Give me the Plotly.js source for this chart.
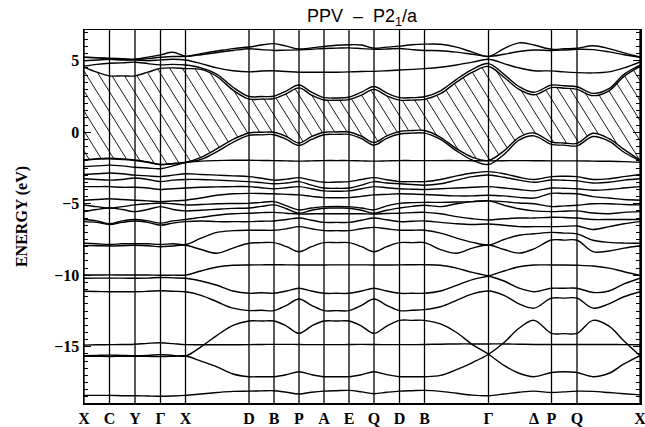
<!DOCTYPE html>
<html><head><meta charset="utf-8">
<script src="https://cdn.plot.ly/plotly-3.0.1.min.js"></script>
<style>html,body{margin:0;padding:0;background:#fff}#plot{width:645px;height:427px}</style>
</head><body><div id="plot"></div>
<script>
// path coordinate (k-distance) of each sample and of the labelled k-points
const kGrid=[0,12.75,25.5,38.25,51,63.75,76.5,89,101.5,117,133,149,165,177.5,190,202.5,215,227.5,240,252.5,265,277.5,290,302.75,315.5,328,340.5,356.5,372.5,388.5,404.5,420,435,450,467.5,480,493,509,525,540,556];
const kTicks=[0,25.5,51,76.5,101.5,165,190,215,240,265,290,315.5,340.5,404.5,450,467.5,493,556];
const kLabels=['X','C','Y','Γ','X','D','B','P','A','E','Q','D','B','Γ','Δ','P','Q','X'];
const yTicks=[5,0,-5,-10,-15];

// conduction bands (eV)
const c5=[5.24,5.22,5.17,5.15,5.12,5.25,5.41,5.59,5.32, 5.5,5.68,5.85, 5.96,6.1,6.2,6.02,5.82,5.9,6.0,6.08,6.12,6.1,5.88,5.95,6.02,6.12,6.16, 6.15,5.95,5.6, 5.3,5.85,6.25,6.1,5.8,5.84,5.87,6.05,5.85,5.55,5.26];
const c4=[5.24,5.2,5.15,5.1,5.06,5.15,5.24,5.3,5.3, 5.42,5.58,5.72, 5.84,5.78,5.72,5.74,5.76,5.8,5.86,5.88,5.9,5.85,5.8,5.82,5.86,5.78,5.72, 5.7,5.6,5.45, 5.3,5.45,5.65,5.75,5.72,5.75,5.8,5.78,5.62,5.42,5.24];
const c3=[5.0,5.05,5.1,5.05,5.06,5.0,5.06,5.1,5.05, 4.8,4.5,4.3, 4.22,4.28,4.3,4.25,4.2,4.2,4.2,4.2,4.22,4.25,4.26,4.3,4.35,4.4,4.45, 4.55,4.7,4.9, 5.1,4.8,4.5,4.3,4.29,4.22,4.17,4.15,4.22,4.5,4.92];
const c2=[4.62,4.75,4.83,4.85,4.9,4.8,4.71,4.75,4.7, 4.5,4.05,3.15, 2.5,2.5,2.52,2.9,3.3,2.8,2.42,2.4,2.45,2.8,3.2,2.75,2.42,2.42,2.48, 2.9,3.7,4.4, 4.8,4.05,3.2,2.8,3.3,3.25,3.18,2.72,3.05,4.05,4.7];
const c1=[4.55,4.2,3.94,3.94,3.94,4.2,4.47,4.5,4.45, 4.4,3.9,2.95, 2.32,2.32,2.35,2.7,3.1,2.6,2.26,2.24,2.28,2.6,3.0,2.55,2.25,2.25,2.3, 2.7,3.5,4.2, 4.6,3.85,3.0,2.62,3.12,3.08,3.0,2.56,2.9,3.9,4.6];
// valence bands (eV)
const v1=[-1.94,-1.85,-1.82,-1.86,-1.94,-2.08,-2.24,-2.18,-2.1, -1.75,-1.15,-0.5, -0.05,0.0,0.0,-0.3,-0.75,-0.3,0.0,0.02,0.02,-0.28,-0.72,-0.25,0.05,0.12,0.12, -0.35,-1.15,-1.75, -1.97,-1.3,-0.35,-0.05,-0.68,-0.75,-0.78,-0.07,-0.45,-1.2,-1.95];
const v2=[-1.96,-1.88,-1.85,-1.9,-1.97,-2.1,-2.27,-2.2,-2.12, -1.9,-1.35,-0.7, -0.22,-0.18,-0.17,-0.5,-0.92,-0.5,-0.17,-0.15,-0.15,-0.45,-0.9,-0.42,-0.12,-0.06,-0.06, -0.5,-1.3,-1.95, -2.25,-1.55,-0.55,-0.25,-0.85,-0.9,-0.95,-0.3,-0.62,-1.4,-2.0];
const f1=[-2.4,-2.35,-2.3,-2.35,-2.45,-2.5,-2.55,-2.35,-2.12, -2.02,-1.98,-1.96, -1.96,-1.97,-1.98,-2.0,-2.02,-2.0,-1.98,-1.98,-1.98,-2.0,-2.02,-2.0,-1.98,-1.98,-1.98, -1.98,-1.98,-1.99, -2.0,-1.99,-1.98,-1.99,-2.0,-2.0,-2.0,-2.02,-2.03,-2.05,-2.1];
const g1=[-2.95,-2.9,-2.85,-2.9,-3.0,-3.05,-3.1,-3.0,-2.9, -2.95,-3.0,-3.05, -3.1,-3.22,-3.35,-3.28,-3.17,-3.35,-3.5,-3.48,-3.45,-3.3,-3.17,-3.32,-3.45,-3.45,-3.45, -3.3,-3.05,-2.85, -2.75,-2.9,-3.15,-3.3,-3.1,-3.08,-3.1,-3.3,-3.25,-3.1,-2.95];
const g2=[-3.25,-3.3,-3.35,-3.3,-3.2,-3.3,-3.45,-3.35,-3.3, -3.3,-3.35,-3.4, -3.45,-3.52,-3.6,-3.55,-3.45,-3.7,-3.9,-3.92,-3.9,-3.7,-3.45,-3.55,-3.6,-3.65,-3.7, -3.6,-3.35,-3.1, -2.99,-3.15,-3.35,-3.5,-3.34,-3.36,-3.4,-3.55,-3.5,-3.35,-3.25];
const g3=[-3.8,-3.8,-3.8,-3.85,-3.85,-3.9,-4.0,-3.95,-3.9, -3.85,-3.82,-3.8, -3.8,-3.88,-3.95,-3.88,-3.8,-3.95,-4.1,-4.12,-4.1,-3.95,-3.8,-3.88,-3.95,-3.98,-4.0, -3.95,-3.9,-3.85, -3.8,-3.9,-4.0,-4.1,-3.9,-3.92,-3.95,-4.05,-4.0,-3.9,-3.8];
const g4=[-4.75,-4.7,-4.65,-4.7,-4.75,-4.8,-4.85,-4.8,-4.75, -4.6,-4.4,-4.3, -4.27,-4.28,-4.3,-4.34,-4.38,-4.48,-4.57,-4.58,-4.57,-4.48,-4.38,-4.34,-4.3,-4.32,-4.35, -4.4,-4.45,-4.45, -4.4,-4.45,-4.55,-4.6,-4.27,-4.28,-4.3,-4.5,-4.6,-4.7,-4.75];
const g5=[-5.08,-5.2,-5.3,-5.2,-5.08,-5.0,-4.95,-5.0,-5.08, -5.05,-5.0,-4.98, -4.97,-4.9,-4.85,-5.15,-5.43,-5.3,-5.2,-5.18,-5.2,-5.3,-5.43,-5.15,-4.97,-4.92,-4.9, -4.9,-4.88,-4.85, -4.8,-4.85,-4.95,-5.0,-5.2,-5.15,-5.1,-5.0,-5.0,-5.05,-5.08];
const g6=[-5.55,-5.4,-5.3,-5.4,-5.55,-5.4,-5.2,-5.4,-5.5, -5.45,-5.38,-5.32, -5.3,-5.18,-5.08,-5.35,-5.66,-5.45,-5.31,-5.3,-5.31,-5.45,-5.66,-5.45,-5.3,-5.18,-5.1, -5.2,-5.0,-4.85, -4.8,-5.1,-5.35,-5.5,-5.55,-5.52,-5.5,-5.65,-5.7,-5.6,-5.55];
const g7=[-6.1,-6.2,-6.4,-6.2,-6.1,-6.2,-6.35,-6.2,-6.1, -5.95,-5.8,-5.7, -5.66,-5.62,-5.6,-5.66,-5.72,-5.7,-5.7,-5.7,-5.7,-5.7,-5.72,-5.68,-5.66,-5.62,-5.6, -5.7,-5.9,-6.05, -6.13,-6.05,-6.0,-6.0,-5.94,-5.96,-6.0,-6.1,-6.1,-6.1,-6.1];
const g8=[-6.25,-6.3,-6.45,-6.3,-6.2,-6.3,-6.5,-6.35,-6.25, -6.2,-6.25,-6.25, -6.25,-6.22,-6.2,-6.1,-6.0,-6.15,-6.3,-6.3,-6.3,-6.15,-6.0,-6.12,-6.25,-6.22,-6.2, -6.3,-6.4,-6.45, -6.41,-6.5,-6.6,-6.6,-6.6,-6.58,-6.55,-6.8,-6.6,-6.4,-6.25];
const g9=[-7.76,-7.8,-7.85,-7.8,-7.8,-7.8,-7.85,-7.8,-7.85, -7.4,-7.0,-6.88, -6.85,-6.85,-6.85,-6.75,-6.6,-6.75,-6.88,-6.88,-6.88,-6.75,-6.65,-6.75,-6.85,-6.85,-6.85, -7.05,-7.4,-7.7, -7.88,-7.5,-7.2,-7.1,-7.0,-7.05,-7.1,-7.55,-7.7,-7.75,-7.76];
const g10=[-7.93,-7.93,-7.95,-7.93,-7.9,-7.93,-8.0,-7.95,-7.9, -8.2,-8.46,-8.1, -7.76,-7.72,-7.72,-8.0,-8.35,-8.0,-7.72,-7.72,-7.72,-8.0,-8.35,-8.0,-7.72,-7.72,-7.72, -8.2,-8.46,-8.1, -7.88,-8.2,-8.45,-8.15,-7.53,-7.54,-7.55,-8.35,-8.3,-8.1,-7.93];
const h1=[-9.98,-9.98,-9.97,-9.98,-9.98,-9.98,-10.0,-9.99,-9.98, -9.7,-9.42,-9.3, -9.28,-9.27,-9.26,-9.27,-9.28,-9.28,-9.28,-9.27,-9.27,-9.27,-9.28,-9.28,-9.27,-9.26,-9.26, -9.3,-9.5,-9.8, -10.05,-10.4,-10.9,-11.15,-10.91,-10.91,-10.91,-11.2,-11.1,-10.6,-10.2];
const h2=[-10.21,-10.2,-10.2,-10.2,-10.21,-10.2,-10.15,-10.18,-10.21, -10.4,-10.7,-11.1, -11.26,-11.22,-11.26,-11.1,-10.91,-11.1,-11.26,-11.26,-11.26,-11.1,-10.91,-11.1,-11.26,-11.26,-11.26, -11.1,-10.7,-10.3, -10.05,-9.7,-9.4,-9.28,-9.28,-9.28,-9.3,-9.35,-9.5,-9.75,-10.0];
const h3=[-11.12,-11.13,-11.15,-11.15,-11.15,-11.12,-11.08,-11.12,-11.15, -11.4,-11.85,-12.3, -12.47,-12.45,-12.47,-12.1,-11.66,-12.1,-12.47,-12.47,-12.47,-12.1,-11.66,-12.1,-12.47,-12.45,-12.4, -12.2,-11.75,-11.3, -11.1,-11.4,-12.0,-12.3,-11.6,-11.6,-11.6,-12.3,-12.0,-11.5,-11.15];
const bHi=[-15.62,-15.6,-15.58,-15.6,-15.62,-15.6,-15.55,-15.6,-15.64, -15.0,-14.2,-13.5, -13.2,-13.2,-13.2,-13.55,-14.06,-13.55,-13.2,-13.2,-13.2,-13.55,-14.06,-13.55,-13.15,-13.15,-13.15, -13.4,-14.0,-14.85, -15.52,-16.3,-16.85,-17.09,-16.8,-16.75,-16.8,-17.09,-16.85,-16.2,-15.62];
const bLo=[-15.66,-15.66,-15.68,-15.66,-15.66,-15.67,-15.68,-15.66,-15.64, -16.0,-16.4,-16.9, -17.09,-17.09,-17.09,-16.95,-16.74,-16.95,-17.09,-17.09,-17.09,-16.95,-16.74,-16.95,-17.09,-17.09,-17.09, -17.0,-16.6,-16.1, -15.52,-14.7,-13.7,-13.15,-14.06,-14.08,-14.06,-13.15,-13.55,-14.6,-15.62];
const s3=[-14.88,-14.86,-14.85,-14.84,-14.82,-14.76,-14.72,-14.78,-14.85, -14.86,-14.86,-14.86, -14.85,-14.84,-14.83,-14.83,-14.84,-14.85,-14.85,-14.85,-14.84,-14.83,-14.84,-14.85,-14.85,-14.85,-14.84, -14.82,-14.8,-14.8, -14.8,-14.8,-14.82,-14.84,-14.84,-14.84,-14.84,-14.84,-14.84,-14.85,-14.86];
const L1=[-18.4,-18.4,-18.4,-18.42,-18.42,-18.44,-18.46,-18.44,-18.4, -18.3,-18.2,-18.12, -18.1,-18.08,-18.07,-18.18,-18.3,-18.18,-18.1,-18.07,-18.05,-18.15,-18.28,-18.18,-18.1,-18.07,-18.05, -18.12,-18.25,-18.38, -18.42,-18.3,-18.18,-18.1,-18.2,-18.15,-18.1,-18.12,-18.2,-18.28,-18.36];

const bands=[c5,c4,c3,c2,c1,v1,v2,f1,g1,g2,g3,g4,g5,g6,g7,g8,g9,g10,h1,h2,h3,bHi,bLo,s3,L1];

// ---- geometry ----
const W=645,H=427,M={l:84,r:5,t:30,b:24};
const xRange=[0,556], yRange=[-18.93,7.15];
const PW=W-M.l-M.r, PH=H-M.t-M.b;
const toPx=k=>M.l+(k-xRange[0])/(xRange[1]-xRange[0])*PW;
const toPy=E=>M.t+(yRange[1]-E)/(yRange[1]-yRange[0])*PH;
const toK=x=>xRange[0]+(x-M.l)/PW*(xRange[1]-xRange[0]);
const toE=y=>yRange[1]-(y-M.t)/PH*(yRange[1]-yRange[0]);

// same smoothing as plotly's spline so the hatching meets the drawn curves
function tangent(p0,p1,p2,s){
  const d1x=p0[0]-p1[0],d1y=p0[1]-p1[1],d2x=p2[0]-p1[0],d2y=p2[1]-p1[1];
  const d1a=Math.pow(d1x*d1x+d1y*d1y,0.25),d2a=Math.pow(d2x*d2x+d2y*d2y,0.25);
  const nx=(d2a*d2a*d1x-d1a*d1a*d2x)*s,ny=(d2a*d2a*d1y-d1a*d1a*d2y)*s;
  const den1=3*d2a*(d1a+d2a),den2=3*d1a*(d1a+d2a);
  return [[p1[0]+(den1&&nx/den1),p1[1]+(den1&&ny/den1)],[p1[0]-(den2&&nx/den2),p1[1]-(den2&&ny/den2)]];
}
function densify(ys){
  const pts=kGrid.map((k,i)=>[toPx(k),toPy(ys[i])]);
  const n=pts.length,tg=[],out=[];
  for(let i=1;i<n-1;i++)tg.push(tangent(pts[i-1],pts[i],pts[i+1],1));
  const quad=(a,c,b)=>{for(let j=0;j<40;j++){const t=j/40,u=1-t;out.push([u*u*a[0]+2*u*t*c[0]+t*t*b[0],u*u*a[1]+2*u*t*c[1]+t*t*b[1]]);}};
  const cub=(a,p,q,b)=>{for(let j=0;j<40;j++){const t=j/40,u=1-t;out.push([u*u*u*a[0]+3*u*u*t*p[0]+3*u*t*t*q[0]+t*t*t*b[0],u*u*u*a[1]+3*u*u*t*p[1]+3*u*t*t*q[1]+t*t*t*b[1]]);}};
  quad(pts[0],tg[0][0],pts[1]);
  for(let i=2;i<n-1;i++)cub(pts[i-1],tg[i-2][1],tg[i-1][0],pts[i]);
  quad(pts[n-2],tg[n-3][1],pts[n-1]);
  out.push(pts[n-1]);
  return out;
}
function lookup(poly,step){
  const N=Math.round(PW/step)+1,arr=new Array(N).fill(null);
  for(let i=0;i<poly.length-1;i++){
    const a=poly[i],b=poly[i+1];
    const x0=Math.min(a[0],b[0]),x1=Math.max(a[0],b[0]);
    for(let j=Math.ceil((x0-M.l)/step);j<=Math.floor((x1-M.l)/step);j++){
      if(j<0||j>=N)continue;
      const x=M.l+j*step,t=(b[0]===a[0])?0:(x-a[0])/(b[0]-a[0]);
      arr[j]=a[1]+t*(b[1]-a[1]);
    }
  }
  return arr;
}
const STEP=0.25;
const topArr=lookup(densify(c1),STEP), botArr=lookup(densify(v1),STEP);
function edgeAt(arr,x){const j=Math.round((x-M.l)/STEP);return (j>=0&&j<arr.length)?arr[j]:null;}
const hx=[],hy=[];
const slope=1.6, spacing=12.5;
for(let a=M.l-PH/slope-spacing*0.4;a<M.l+PW;a+=spacing){
  let run=null;
  for(let y=M.t;y<=M.t+PH+0.001;y+=0.25){
    const x=a+(y-M.t)/slope;
    let inside=false;
    if(x>=M.l&&x<=M.l+PW){const t=edgeAt(topArr,x),b=edgeAt(botArr,x);inside=(t!==null&&b!==null&&y>t&&y<b);}
    if(inside){if(!run)run={x0:x,y0:y};run.x1=x;run.y1=y;}
    else if(run){hx.push(toK(run.x0),toK(run.x1),null);hy.push(toE(run.y0),toE(run.y1),null);run=null;}
  }
  if(run){hx.push(toK(run.x0),toK(run.x1),null);hy.push(toE(run.y0),toE(run.y1),null);}
}

const traces=[{x:hx,y:hy,type:'scatter',mode:'lines',line:{color:'#000',width:0.9},hoverinfo:'skip',showlegend:false}];
bands.forEach(b=>traces.push({x:kGrid,y:b,type:'scatter',mode:'lines',line:{color:'#000',width:1.4,shape:'spline',smoothing:1,simplify:false},hoverinfo:'skip',showlegend:false}));

const shapes=kTicks.filter((k,i)=>kLabels[i]!=='Δ').map(k=>({type:'line',xref:'x',yref:'paper',x0:k,x1:k,y0:0,y1:1,line:{color:'#000',width:1.3},layer:'below'}));

const serifBold={family:'"Liberation Serif", "Times New Roman", serif',size:16,color:'#000',weight:'bold'};
const layout={
  width:W,height:H,margin:{l:M.l,r:M.r,t:M.t,b:M.b,pad:0},
  paper_bgcolor:'#fff',plot_bgcolor:'#fff',showlegend:false,
  title:{text:'PPV  –  P2<sub>1</sub>/a',font:{family:'"Liberation Sans", Arial, sans-serif',size:18,color:'#000'},x:0.5,xref:'paper',xanchor:'center',y:1-16/H,yref:'container',yanchor:'middle'},
  xaxis:{range:xRange,tickmode:'array',tickvals:kTicks,ticktext:kLabels,ticks:'',showgrid:false,zeroline:false,showline:true,mirror:true,linecolor:'#000',linewidth:1.5,tickfont:serifBold,ticklabeloverflow:'allow',fixedrange:true,automargin:false},
  yaxis:{range:yRange,tickmode:'array',tickvals:yTicks,ticks:'inside',ticklen:7,tickwidth:1.2,tickcolor:'#000',
    minor:{tickmode:'linear',tick0:0,dtick:0.5,ticks:'inside',ticklen:4,tickwidth:1,tickcolor:'#000',showgrid:false},
    showgrid:false,zeroline:false,showline:true,mirror:'ticks',linecolor:'#000',linewidth:1.5,tickfont:serifBold,fixedrange:true,automargin:false,
    title:{text:'ENERGY (eV)',font:{family:'"Liberation Serif", "Times New Roman", serif',size:16,color:'#000',weight:'bold'},standoff:22}},
  shapes:shapes
};
Plotly.newPlot('plot',traces,layout,{staticPlot:true,displayModeBar:false});
</script></body></html>
